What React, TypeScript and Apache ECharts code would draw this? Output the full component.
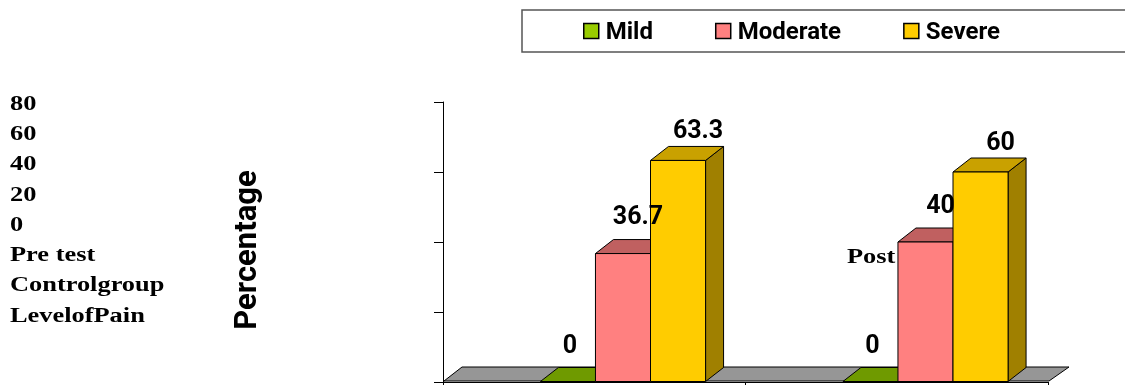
import React, { useEffect, useRef } from 'react';
import * as echarts from 'echarts';

const categories = ['Pre test', 'Post test'];
const levels = ['Mild', 'Moderate', 'Severe'];
const mildValues = [0, 0];
const moderateValues = [36.7, 40];
const severeValues = [63.3, 60];
const yMin = 0;
const yMax = 80;
const yStep = 20;
const leftTexts = ['80', '60', '40', '20', '0', 'Pre test', 'Controlgroup', 'LevelofPain'];
const strayText = 'Post';
const axisTitle = 'Percentage';

const DX = 18;
const DY = -14;
const SANS = 'Roboto, "Open Sans", sans-serif';

function barSeries(
  name: string,
  values: number[],
  slot: number,
  front: string,
  top: string,
  side: string,
  lblDx: number,
  lblDy: number
) {
  return {
    type: 'custom',
    name,
    coordinateSystem: 'cartesian2d',
    itemStyle: { color: front, borderColor: '#000' },
    encode: { x: 0, y: 1 },
    data: values.map((v, i) => [i, v]),
    z: 3,
    renderItem: (params: any, api: any) => {
      const ci = api.value(0);
      const v = api.value(1);
      const base = api.coord([ci, 0]);
      const tp = api.coord([ci, v]);
      const band = api.size([1, 0])[0];
      const w = band * 0.182;
      const x0 = base[0] - band / 2 + band * (0.322 + slot * 0.182);
      const yb = base[1] - 0.5;
      const yt = Math.min(tp[1], yb);
      const stroke = { stroke: '#000', lineWidth: 1 };
      const children: any[] = [];
      children.push({
        type: 'polygon',
        shape: { points: [[x0 + w, yt], [x0 + w + DX, yt + DY], [x0 + w + DX, yb + DY], [x0 + w, yb]] },
        style: { fill: side, ...stroke },
      });
      children.push({
        type: 'polygon',
        shape: { points: [[x0, yt], [x0 + w, yt], [x0 + w + DX, yt + DY], [x0 + DX, yt + DY]] },
        style: { fill: top, ...stroke },
      });
      if (yb - yt > 0.5) {
        children.push({
          type: 'rect',
          shape: { x: x0, y: yt, width: w, height: yb - yt },
          style: { fill: front, ...stroke },
        });
      }
      children.push({
        type: 'text',
        x: x0 + w / 2 + lblDx,
        y: yt + lblDy,
        z2: 100,
        style: {
          text: String(v),
          fill: '#000',
          fontSize: 25,
          fontWeight: 'bold',
          fontFamily: SANS,
          align: 'center',
          verticalAlign: 'middle',
          textAlign: 'center',
          textVerticalAlign: 'middle',
        },
      });
      return { type: 'group', children };
    },
  };
}

export default function App() {
  const ref = useRef<HTMLDivElement>(null);
  useEffect(() => {
    if (!ref.current) return;
    const chart = echarts.init(ref.current, undefined, { renderer: 'svg' });
    const serif = '"Liberation Serif", "Times New Roman", serif';
    const serifText = (t: string, x: number, y: number) => ({
      type: 'text',
      x,
      y,
      scaleX: 1.2,
      style: {
        text: t,
        fill: '#000',
        fontSize: 22,
        fontWeight: 'bold',
        fontFamily: serif,
        align: 'left',
        verticalAlign: 'middle',
        textAlign: 'left',
        textVerticalAlign: 'middle',
      },
    });
    const graphics: any[] = [
      {
        type: 'rect',
        shape: { x: 522, y: 10, width: 720, height: 42 },
        style: { fill: 'none', stroke: '#555', lineWidth: 1.5 },
        silent: true,
      },
      {
        type: 'text',
        x: 245,
        y: 250,
        rotation: Math.PI / 2,
        style: {
          text: axisTitle,
          fill: '#000',
          fontSize: 31,
          fontWeight: 'bold',
          fontFamily: SANS,
          align: 'center',
          verticalAlign: 'middle',
          textAlign: 'center',
          textVerticalAlign: 'middle',
        },
      },
      ...leftTexts.map((t, i) => serifText(t, 10, 102 + i * 30.3)),
      serifText(strayText, 847, 255),
    ];
    chart.setOption({
      animation: false,
      grid: { left: 443, right: 77, top: 102, bottom: 3, containLabel: false },
      legend: {
        data: levels,
        left: 583,
        top: 19,
        padding: 0,
        itemGap: 62,
        itemWidth: 15,
        itemHeight: 15,
        icon: 'rect',
        itemStyle: { borderColor: '#000', borderWidth: 1.5 },
        textStyle: { fontSize: 24, fontWeight: 'bold', fontFamily: SANS, color: '#000', padding: [0, 0, 0, 2] },
        selectedMode: false,
      },
      xAxis: {
        type: 'category',
        data: categories,
        boundaryGap: true,
        axisLine: { show: true, lineStyle: { color: '#000', width: 1 } },
        axisTick: { show: true, length: 4, interval: 0, lineStyle: { color: '#000' } },
        axisLabel: { show: false },
        splitLine: { show: false },
      },
      yAxis: {
        type: 'value',
        min: yMin,
        max: yMax,
        interval: yStep,
        axisLine: { show: true, lineStyle: { color: '#000', width: 1 } },
        axisTick: { show: true, length: 9, lineStyle: { color: '#000' } },
        axisLabel: { show: false },
        splitLine: { show: false },
      },
      graphic: graphics,
      series: [
        {
          type: 'custom',
          name: 'floor',
          coordinateSystem: 'cartesian2d',
          data: [[0, 0]],
          z: 1,
          silent: true,
          renderItem: (params: any) => {
            const cs = params.coordSys;
            const yb = cs.y + cs.height - 1;
            const xl = cs.x + 1;
            const xr = cs.x + cs.width + 1;
            return {
              type: 'polygon',
              shape: { points: [[xl, yb], [xr, yb], [xr + 20, yb + DY], [xl + DX, yb + DY]] },
              style: { fill: '#969696', stroke: '#000', lineWidth: 1 },
            };
          },
        },
        barSeries(levels[0], mildValues, 0, '#99cc00', '#6f9a00', '#5a7d00', 2, -37),
        barSeries(levels[1], moderateValues, 1, '#ff8080', '#c06060', '#a05050', 15, -38),
        barSeries(levels[2], severeValues, 2, '#ffcc00', '#c9a100', '#a08000', 20, -31),
      ],
    });
    return () => chart.dispose();
  }, []);
  return <div ref={ref} style={{ position: 'fixed', left: 0, top: 0, width: 1125, height: 385 }} />;
}
